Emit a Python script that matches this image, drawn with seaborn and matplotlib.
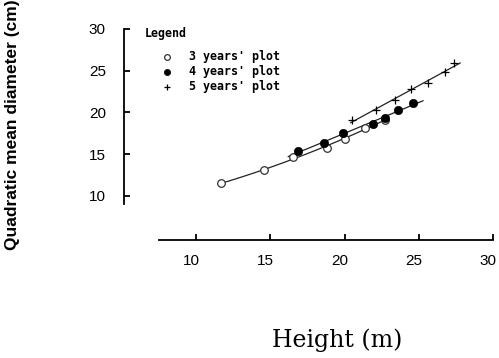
import numpy as np
import pandas as pd
import seaborn as sns
import matplotlib
matplotlib.use("Agg")
import matplotlib.pyplot as plt
import matplotlib.transforms as mtransforms

# data: height (m) vs quadratic mean diameter (cm)
h3 = [11.7, 14.6, 16.5, 18.8, 20.0, 21.4, 22.7]
d3 = [11.5, 13.1, 14.7, 15.8, 16.8, 18.1, 19.1]

h4 = [16.9, 18.6, 19.9, 21.9, 22.7, 23.6, 24.6]
d4 = [15.4, 16.3, 17.6, 18.6, 19.3, 20.3, 21.1]

h5 = [20.5, 22.1, 23.4, 24.5, 25.6, 26.8, 27.4]
d5 = [19.1, 20.3, 21.5, 22.8, 23.5, 24.9, 25.9]

labels = ["3 years' plot", "4 years' plot", "5 years' plot"]
# x-range of each fitted line
fit_start = [11.7, 16.2, 20.4]
fit_end = [22.9, 25.3, 27.8]
fit_order = [2, 1, 1]

sns.set_theme(style="ticks")
plt.rcParams["font.family"] = ["Liberation Sans", "DejaVu Sans"]
plt.rcParams["text.color"] = "black"

fig = plt.figure(figsize=(4.99, 3.58), dpi=100)
ax = fig.add_axes([124 / 499, 1 - 240 / 358, 369 / 499, 211 / 358])

series = [(h3, d3), (h4, d4), (h5, d5)]
for (h, d), s, e, o in zip(series, fit_start, fit_end, fit_order):
    coef = np.polyfit(h, d, o)
    xs = np.linspace(s, e, 50)
    line = pd.DataFrame({"x": xs, "y": np.polyval(coef, xs)})
    sns.lineplot(data=line, x="x", y="y", ax=ax, color="#222222", lw=0.9)

sns.scatterplot(x=h3, y=d3, ax=ax, marker="o", s=30, facecolor="white",
                edgecolor="#333333", linewidth=0.9, label=labels[0], zorder=3)
sns.scatterplot(x=h4, y=d4, ax=ax, marker="o", s=36, color="black",
                edgecolor="black", label=labels[1], zorder=3)
sns.scatterplot(x=h5, y=d5, ax=ax, marker="+", s=36, color="black",
                linewidth=0.9, label=labels[2], zorder=3)

ax.set_xlim(5.15, 30)
ax.set_ylim(4.73, 30)
ax.set_xticks([10, 15, 20, 25, 30])
ax.set_yticks([10, 15, 20, 25, 30])
for sp in ["top", "right"]:
    ax.spines[sp].set_visible(False)
ax.spines["left"].set_bounds(9.05, 30)
ax.spines["bottom"].set_bounds(7.5, 30)
for sp in ["left", "bottom"]:
    ax.spines[sp].set_linewidth(1.3)
    ax.spines[sp].set_color("black")
ax.tick_params(axis="both", direction="in", length=4, width=1.3,
               color="black", labelsize=11, labelcolor="black")
ax.tick_params(axis="y", pad=13)
ax.tick_params(axis="x", pad=10)
shift = mtransforms.ScaledTranslation(-5 / 100, 0, fig.dpi_scale_trans)
for lab in ax.get_xticklabels():
    lab.set_transform(lab.get_transform() + shift)

ax.set_xlabel("")
ax.set_ylabel("")
fig.text(13 / 499, 1 - 125 / 358, "Quadratic mean diameter (cm)", rotation=90,
         ha="center", va="center", fontsize=12.5, fontweight="bold")
fig.text(337 / 499, 1 - 340 / 358, "Height (m)", ha="center", va="center",
         fontsize=17, family=["DejaVu Serif"])

mono = {"family": "DejaVu Sans Mono", "weight": "bold", "size": 8.4}
fig.text(145 / 499, 1 - 33 / 358, "Legend", ha="left", va="center", **mono)
leg = ax.legend(loc="upper left", frameon=False,
                bbox_to_anchor=((145 - 124) / 369, (240 - 50) / 211),
                prop=mono, handletextpad=0.1, labelspacing=0.17,
                handlelength=3.7, borderpad=0.0, borderaxespad=0.0,
                markerscale=0.75)

fig.savefig("out.png", dpi=100)
